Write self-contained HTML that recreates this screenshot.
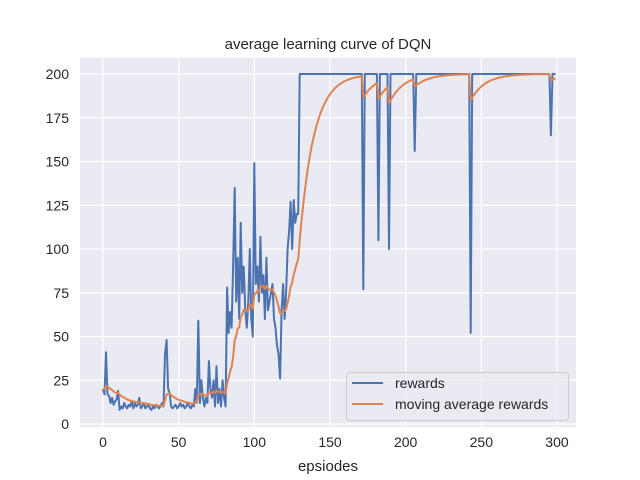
<!DOCTYPE html>
<html><head><meta charset="utf-8"><style>
body{margin:0;background:#fff;}
svg{display:block;font-family:"Liberation Sans","DejaVu Sans",sans-serif;}
</style></head><body>
<svg id="s" width="640" height="480" xmlns="http://www.w3.org/2000/svg">
<rect x="0" y="0" width="640" height="480" fill="#fff"/>
<rect x="80" y="57.6" width="496" height="369.6" fill="#EAEAF2"/>
<g id="grid" stroke="#fff" stroke-width="1.2"></g>
<g id="lab" fill="#262626" font-size="14"></g>
<path id="pb" fill="none" stroke="#4C72B0" stroke-width="2" stroke-linejoin="round"/>
<path id="po" fill="none" stroke="#DD8452" stroke-width="2" stroke-linejoin="round"/>
<text x="328" y="49" text-anchor="middle" font-size="15" fill="#262626">average learning curve of DQN</text>
<text x="328" y="471" text-anchor="middle" font-size="15" fill="#262626">epsiodes</text>
<rect x="346.5" y="372.5" width="222" height="48" rx="3" fill="#EAEAF2" fill-opacity="0.8" stroke="#cccccc"/>
<line x1="352" y1="383" x2="383" y2="383" stroke="#4C72B0" stroke-width="2"/>
<line x1="352" y1="404" x2="383" y2="404" stroke="#DD8452" stroke-width="2"/>
<text x="395" y="388" font-size="14" fill="#262626">rewards</text>
<text x="395" y="409" font-size="14" fill="#262626">moving average rewards</text>
</svg>
<script>
var X=function(e){return 103+e*1.5133;},Y=function(v){return 424-v*1.75;};
var g=document.getElementById('grid'),l=document.getElementById('lab'),h='',t='';
for(var e=0;e<=300;e+=50){var x=X(e);h+='<line x1="'+x+'" y1="57.6" x2="'+x+'" y2="427.2"/>';t+='<text x="'+x+'" y="447" text-anchor="middle">'+e+'</text>';}
for(var v=0;v<=200;v+=25){var y=Y(v);h+='<line x1="80" y1="'+y+'" x2="576" y2="'+y+'"/>';t+='<text x="69" y="'+(y+5)+'" text-anchor="end">'+v+'</text>';}
g.innerHTML=h;l.innerHTML=t;
var r=[20,17,41,17,16,12,15,11,13,14,19];
var s=[8,10,9,12,10,9,11,10,13,9,12,10,11,15,9,10,12,9,10,11,9,8,10,9,11,10,9,10,12,10];
r=r.concat(s);
r=r.concat([40,48,20,18,10,9,10,11,9,10,12,10,11,9,10,12,10,9,11,10]);
r=r.concat([20,12,59,12,25,15,10,15,12,36,20,15,25,10,33,12,20,10,25,15,10,78]);
r=r.concat([52,64,55,90,135,70,95,60,115,75,90,65,55,70,100,60,50,149,80,90,70,107,75,85,60,95,65,70,75,80,60,55,45,40,26,65,80,60,75,100,110,127,100,128,115]);
while(r.length<130)r.push(120);
while(r.length<300)r.push(200);
var d={172:77,182:105,189:100,206:156,243:52,296:165};for(var k in d)r[k]=d[k];
var pb='',po='',m=r[0];
for(var i=0;i<300;i++){m=i?0.9*m+0.1*r[i]:r[i];pb+=(i?'L':'M')+X(i).toFixed(1)+' '+Y(r[i]).toFixed(1);po+=(i?'L':'M')+X(i).toFixed(1)+' '+Y(m).toFixed(1);}
document.getElementById('pb').setAttribute('d',pb);document.getElementById('po').setAttribute('d',po);
</script>
</body></html>
